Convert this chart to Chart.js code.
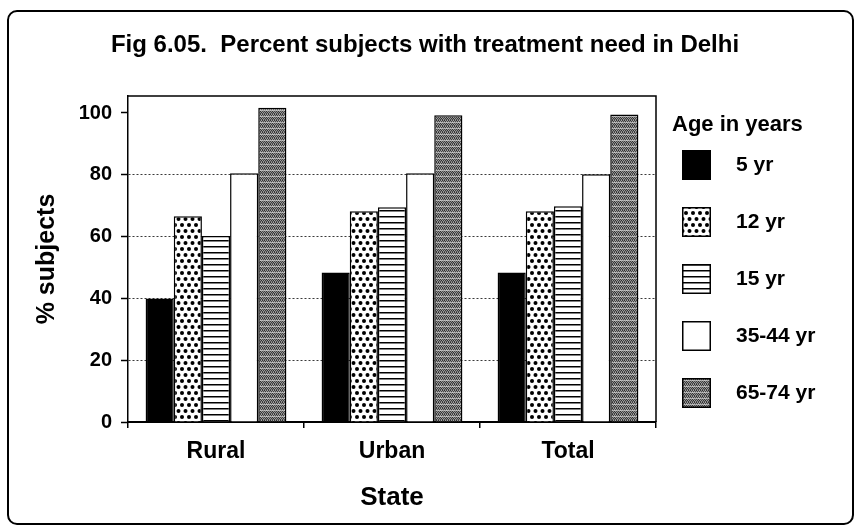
<!DOCTYPE html>
<html>
<head>
<meta charset="utf-8">
<title>Percent subjects with treatment need in Delhi</title>
<script src="https://cdn.jsdelivr.net/npm/chart.js@4.4.1/dist/chart.umd.min.js"></script>
<style>
  html, body { margin: 0; padding: 0; background: #fff; }
  #wrap { width: 856px; height: 527px; }
</style>
</head>
<body>
<div id="wrap"><canvas id="c" width="856" height="527"></canvas></div>
<script>
// ---- data ----
const categories = ['Rural', 'Urban', 'Total'];
const ageGroups = ['5 yr', '12 yr', '15 yr', '35-44 yr', '65-74 yr'];
const age5 = [40, 48.4, 48.4];
const age12 = [66.6, 68.2, 68.2];
const age15 = [60.2, 69.5, 69.8];
const age35to44 = [80.5, 80.5, 80.2];
const age65to74 = [101.7, 99.3, 99.5];
const yTicks = [0, 20, 40, 60, 80, 100];

const FONT = '"Liberation Sans", Arial, Helvetica, sans-serif';
const canvas = document.getElementById('c');
const ctx = canvas.getContext('2d');

// ---- fill patterns for the bars ----
function makePattern(w, h, paint) {
  const tile = document.createElement('canvas');
  tile.width = w; tile.height = h;
  const t = tile.getContext('2d');
  paint(t, w, h);
  return ctx.createPattern(tile, 'repeat');
}

// staggered black dots
const dotFill = makePattern(7, 12, (t, w, h) => {
  t.fillStyle = '#fff'; t.fillRect(0, 0, w, h);
  t.fillStyle = '#000';
  [[3.5, 3], [0, 9], [7, 9]].forEach(([cx, cy]) => {
    t.beginPath(); t.arc(cx, cy, 2.0, 0, Math.PI * 2); t.fill();
  });
});

// horizontal black rules
const ruleFill = makePattern(4, 6, (t, w, h) => {
  t.fillStyle = '#fff'; t.fillRect(0, 0, w, h);
  t.fillStyle = '#000'; t.fillRect(0, 0, w, 1.5);
});

// grainy dark-grey screen with faint light streaks
const greyFill = makePattern(6, 6, (t, w, h) => {
  const shades = [
    ['#2e2e2e', '#9a9a9a', '#444444', '#a8a8a8', '#363636', '#8c8c8c'],
    ['#909090', '#3a3a3a', '#a0a0a0', '#404040', '#969696', '#484848'],
    ['#c0c0c0', '#a4a4a4', '#c8c8c8', '#b0b0b0', '#bcbcbc', '#a0a0a0'],
    ['#404040', '#949494', '#303030', '#9c9c9c', '#4a4a4a', '#8a8a8a'],
    ['#989898', '#383838', '#8e8e8e', '#2c2c2c', '#a2a2a2', '#3e3e3e'],
    ['#4c4c4c', '#848484', '#424242', '#8a8a8a', '#383838', '#9a9a9a']
  ];
  for (let y = 0; y < h; y++) {
    for (let x = 0; x < w; x++) {
      t.fillStyle = shades[y][x];
      t.fillRect(x, y, 1, 1);
    }
  }
});

const fills = ['#000', dotFill, ruleFill, '#fff', greyFill];
const series = [age5, age12, age15, age35to44, age65to74];

// ---- plugins ----
const pageFrame = {
  id: 'pageFrame',
  beforeDraw(chart) {
    const c = chart.ctx;
    c.save();
    c.fillStyle = '#fff';
    c.fillRect(0, 0, chart.width, chart.height);
    c.strokeStyle = '#000';
    c.lineWidth = 2;
    c.beginPath();
    c.roundRect(8, 11, 845, 513, 9);
    c.stroke();
    c.restore();
  }
};

const plotFrame = {
  id: 'plotFrame',
  afterDatasetsDraw(chart) {
    const { ctx: c, chartArea: a } = chart;
    c.save();
    c.strokeStyle = '#000';
    c.lineWidth = 1.5;
    c.beginPath();
    c.moveTo(a.left, a.top);
    c.lineTo(a.right, a.top);
    c.lineTo(a.right, a.bottom);
    c.stroke();
    c.restore();
  }
};

const ageLegend = {
  id: 'ageLegend',
  afterDraw(chart) {
    const { ctx: c, chartArea: a } = chart;
    c.save();
    c.textBaseline = 'middle';
    c.textAlign = 'left';
    c.fillStyle = '#000';
    c.font = 'bold 22px ' + FONT;
    c.fillText('Age in years', a.right + 16, a.top + 29);
    chart.data.datasets.forEach((ds, i) => {
      const cy = a.top + 69 + i * 57;
      const bx = a.right + 26;
      c.fillStyle = ds.backgroundColor;
      c.fillRect(bx, cy - 15, 29, 30);
      c.lineWidth = 1.5;
      c.strokeStyle = '#000';
      c.strokeRect(bx + 0.75, cy - 14.25, 27.5, 28.5);
      c.fillStyle = '#000';
      c.font = 'bold 21px ' + FONT;
      c.fillText(ds.label, a.right + 80, cy);
    });
    c.restore();
  }
};

// ---- chart ----
new Chart(ctx, {
  type: 'bar',
  data: {
    labels: categories,
    datasets: ageGroups.map((name, i) => ({
      label: name,
      data: series[i],
      backgroundColor: fills[i],
      borderColor: '#000',
      borderWidth: 1.5,
      categoryPercentage: 0.8,
      barPercentage: 1.0
    }))
  },
  options: {
    responsive: false,
    animation: false,
    events: [],
    layout: { padding: { left: 0, right: 6, top: 0, bottom: 0 } },
    plugins: {
      legend: { display: false },
      tooltip: { enabled: false },
      title: {
        display: true,
        text: 'Fig 6.05.  Percent subjects with treatment need in Delhi',
        color: '#000',
        font: { family: FONT, size: 24, weight: 'bold' },
        padding: { top: 30.6, bottom: 36.6 }
      }
    },
    scales: {
      x: {
        grid: {
          display: true, drawOnChartArea: false, drawTicks: true,
          tickLength: 6, color: '#000', lineWidth: 1.5, offset: true
        },
        border: { color: '#000', width: 2 },
        ticks: {
          color: '#000', padding: 10,
          font: { family: FONT, size: 23, weight: 'bold' }
        },
        title: {
          display: true, text: 'State', color: '#000',
          font: { family: FONT, size: 26, weight: 'bold' },
          padding: { top: 0, bottom: 13.4 }
        },
        afterFit: (s) => { s.height = 105; }
      },
      y: {
        min: 0,
        max: 105.5,
        afterBuildTicks: (s) => { s.ticks = yTicks.map(v => ({ value: v })); },
        grid: {
          color: (c) => (c.tick && c.tick.value > 0 && c.tick.value < 100) ? '#3a3a3a' : 'rgba(0,0,0,0)',
          lineWidth: 1,
          tickLength: 7,
          tickColor: '#000',
          tickWidth: 1.5,
          tickBorderDash: []
        },
        border: { color: '#000', width: 1.5, dash: [2, 2] },
        ticks: {
          color: '#000', padding: 9,
          font: { family: FONT, size: 20, weight: 'bold' }
        },
        title: {
          display: true, text: '% subjects', color: '#000',
          font: { family: FONT, size: 25, weight: 'bold' },
          padding: { top: 32, bottom: 0 }
        },
        afterFit: (s) => { s.width = 128; }
      },
      legendSpace: {
        type: 'linear',
        position: 'right',
        display: true,
        grid: { display: false },
        border: { display: false },
        ticks: { display: false },
        afterFit: (s) => { s.width = 194; }
      }
    }
  },
  plugins: [pageFrame, plotFrame, ageLegend]
});
</script>
</body>
</html>
